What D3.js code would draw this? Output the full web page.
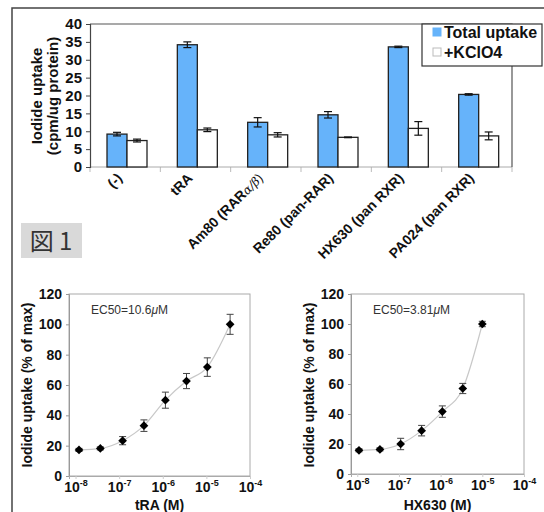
<!DOCTYPE html>
<html>
<head>
<meta charset="utf-8">
<script src="https://cdn.jsdelivr.net/npm/d3@7"></script>
<style>
  body { margin: 0; background: #fff; }
  svg { display: block; font-family: "Liberation Sans", Arial, sans-serif; }
</style>
</head>
<body>
<svg id="fig" width="544" height="512"></svg>
<script>
// bar chart data
const categories = ["(-)", "tRA", "Am80 (RAR", "Re80 (pan-RAR)", "HX630 (pan RXR)", "PA024 (pan RXR)"];
const seriesNames = ["Total uptake", "+KClO4"];
const totalUptake = [9.2, 34.2, 12.5, 14.6, 33.6, 20.3];
const totalErr = [0.5, 0.8, 1.3, 0.9, 0.2, 0.2];
const kclo4Uptake = [7.4, 10.4, 9.0, 8.3, 10.8, 8.7];
const kclo4Err = [0.4, 0.5, 0.6, 0.1, 1.9, 1.1];
const barTicks = [0, 5, 10, 15, 20, 25, 30, 35, 40];

// dose response data
const traConc = [1.2e-8, 3.7e-8, 1.2e-7, 3.7e-7, 1.15e-6, 3.5e-6, 1.05e-5, 3.5e-5];
const traUptake = [17.2, 18.2, 23.3, 33.2, 50, 62.6, 71.8, 100];
const traErr = [1, 1, 2.7, 3.8, 5.3, 5, 6.1, 6.6];
const hxConc = [1.1e-8, 3.5e-8, 1.1e-7, 3.5e-7, 1.1e-6, 3.4e-6, 1e-5];
const hxUptake = [15.8, 16.4, 20, 28.9, 41.6, 57, 100];
const hxErr = [1, 1, 3.8, 3.5, 3.8, 3.4, 1.8];
const doseTicks = [0, 20, 40, 60, 80, 100, 120];
const decadeExp = [-8, -7, -6, -5, -4];

const svg = d3.select('#fig');

// outer frame
svg.append('path')
    .attr('d', 'M12,512 L12,8 L544,8')
    .attr('fill', 'none')
    .attr('stroke', '#444')
    .attr('stroke-width', 1.5);

// ---- top bar chart ----
let barG = svg.append('g');
let x0 = d3.scaleBand().domain(categories).range([90, 512]);
let x1 = d3.scaleBand().domain(seriesNames).range([17, 57]);
let y = d3.scaleLinear().domain([0, 40]).range([167, 24]);

// category boundary ticks
let bounds = categories.map(c => x0(c)).concat([512]);
barG.selectAll('.bt').data(bounds).enter().append('line')
    .attr('x1', d => d).attr('x2', d => d)
    .attr('y1', 167).attr('y2', 172)
    .attr('stroke', '#bbb');
barG.append('line').attr('x1', 90).attr('x2', 512).attr('y1', 167).attr('y2', 167)
    .attr('stroke', '#aaa');

// plot frame top/right
barG.append('path').attr('d', 'M90,24 L512,24 L512,167')
    .attr('fill', 'none').attr('stroke', '#555').attr('stroke-width', 1.2);

let yAxis = barG.append('g').attr('transform', 'translate(90,0)')
    .call(d3.axisLeft(y).tickValues(barTicks).tickSize(4).tickPadding(4));
yAxis.select('.domain').attr('stroke', '#444').attr('stroke-width', 1.2);
yAxis.selectAll('line').attr('stroke', '#444');
yAxis.selectAll('text').attr('font-size', 15).attr('font-weight', 'bold')
    .attr('fill', '#111').attr('font-family', '"Liberation Sans", Arial, sans-serif');

barG.append('text')
    .attr('transform', 'translate(42,96) rotate(-90)')
    .attr('text-anchor', 'middle')
    .attr('font-size', 15).attr('font-weight', 'bold').attr('fill', '#111')
    .text('Iodide uptake');
barG.append('text')
    .attr('transform', 'translate(58,96) rotate(-90)')
    .attr('text-anchor', 'middle')
    .attr('font-size', 15).attr('font-weight', 'bold').attr('fill', '#111')
    .text('(cpm/ug protein)');

let barRows = categories.map((c, i) => [
    {cat: c, s: seriesNames[0], v: totalUptake[i], e: totalErr[i]},
    {cat: c, s: seriesNames[1], v: kclo4Uptake[i], e: kclo4Err[i]}
]).flat();

barG.selectAll('.bar').data(barRows).enter().append('rect')
    .attr('x', d => x0(d.cat) + x1(d.s))
    .attr('y', d => y(d.v))
    .attr('width', x1.bandwidth())
    .attr('height', d => y(0) - y(d.v))
    .attr('fill', d => d.s === seriesNames[0] ? '#66b3fa' : '#fff')
    .attr('stroke', '#222')
    .attr('stroke-width', 1.3);

let errG = barG.selectAll('.err').data(barRows).enter().append('g')
    .attr('transform', d => `translate(${x0(d.cat) + x1(d.s) + x1.bandwidth() / 2},0)`);
errG.append('line')
    .attr('y1', d => y(d.v + d.e)).attr('y2', d => y(d.v - d.e))
    .attr('stroke', '#111').attr('stroke-width', 1.2);
errG.append('line')
    .attr('x1', -4).attr('x2', 4)
    .attr('y1', d => y(d.v + d.e)).attr('y2', d => y(d.v + d.e))
    .attr('stroke', '#111').attr('stroke-width', 1.2);
errG.append('line')
    .attr('x1', -4).attr('x2', 4)
    .attr('y1', d => y(d.v - d.e)).attr('y2', d => y(d.v - d.e))
    .attr('stroke', '#111').attr('stroke-width', 1.2);

// category labels
barG.selectAll('.cl').data(categories).enter().append('text')
    .attr('transform', c => `translate(${x0(c) + x0.bandwidth() / 2 - 2},179) rotate(-45)`)
    .attr('text-anchor', 'end')
    .attr('font-size', 14).attr('font-weight', 'bold').attr('fill', '#111')
    .each(function(c) {
        let t = d3.select(this);
        t.append('tspan').text(c);
        if (c === 'Am80 (RAR') {
            t.append('tspan').attr('font-weight', 'normal').attr('font-style', 'italic')
                .attr('font-family', '"DejaVu Serif", serif').attr('font-size', 12).text('α/β');
            t.append('tspan').attr('font-weight', 'normal').attr('font-size', 13).text(')');
        }
    });

// legend
let leg = barG.append('g');
leg.append('rect').attr('x', 422).attr('y', 24).attr('width', 120).attr('height', 42)
    .attr('fill', '#fff').attr('stroke', '#333').attr('stroke-width', 1.2);
seriesNames.forEach((s, i) => {
    leg.append('rect').attr('x', 433).attr('y', 28 + i * 20).attr('width', 8).attr('height', 8)
        .attr('fill', i === 0 ? '#66b3fa' : '#fff')
        .attr('stroke', i === 0 ? '#66b3fa' : '#bbb');
    leg.append('text').attr('x', 444).attr('y', 38 + i * 20)
        .attr('font-size', 16).attr('font-weight', 'bold').attr('fill', '#111')
        .text(s);
});

// figure tag
svg.append('rect').attr('x', 21).attr('y', 223).attr('width', 61).attr('height', 35)
    .attr('fill', '#d9d9d9');
svg.append('text').attr('x', 51).attr('y', 250).attr('text-anchor', 'middle')
    .attr('font-family', '"Noto Sans CJK JP", sans-serif').attr('font-size', 24)
    .attr('fill', '#333').text('図 1');

// ---- dose response panels ----
function drawDose(cfg) {
    let g = svg.append('g');
    let x = d3.scaleLog().domain([cfg.xmin, 1e-4]).range([cfg.left, cfg.right]);
    let yy = d3.scaleLinear().domain([0, 120]).range([cfg.bottom, 294]);

    g.append('rect').attr('x', cfg.left).attr('y', 294)
        .attr('width', cfg.right - cfg.left).attr('height', cfg.bottom - 294)
        .attr('fill', 'none').attr('stroke', '#aaa');

    let ya = g.append('g').attr('transform', `translate(${cfg.left},0)`)
        .call(d3.axisLeft(yy).tickValues(doseTicks).tickSize(3).tickPadding(4));
    ya.select('.domain').attr('stroke', '#999');
    ya.selectAll('line').attr('stroke', '#999');
    ya.selectAll('text').attr('font-size', 14).attr('font-weight', 'bold')
        .attr('fill', '#111').attr('font-family', '"Liberation Sans", Arial, sans-serif');

    let ticks = decadeExp.map(e => Math.pow(10, e));
    let xa = g.append('g').attr('transform', `translate(0,${cfg.bottom})`)
        .call(d3.axisBottom(x).tickValues(ticks).tickSize(3).tickFormat(''));
    xa.select('.domain').attr('stroke', '#aaa');
    xa.selectAll('line').attr('stroke', '#ccc');
    xa.selectAll('.tick').append('text')
        .attr('y', 16).attr('text-anchor', 'middle')
        .attr('font-size', 14).attr('font-weight', 'bold').attr('fill', '#111')
        .attr('font-family', '"Liberation Sans", Arial, sans-serif')
        .each(function(d) {
            let t = d3.select(this);
            t.append('tspan').text('10');
            t.append('tspan').attr('dy', -6).attr('font-size', 9)
                .text(Math.round(Math.log10(d)));
        });

    g.append('text')
        .attr('x', (cfg.left + cfg.right) / 2).attr('y', 510)
        .attr('text-anchor', 'middle')
        .attr('font-size', 14).attr('font-weight', 'bold').attr('fill', '#111')
        .text(cfg.xlabel);

    g.append('text')
        .attr('transform', `translate(${cfg.left - 37},385) rotate(-90)`)
        .attr('text-anchor', 'middle')
        .attr('font-size', 14).attr('font-weight', 'bold').attr('fill', '#111')
        .text('Iodide uptake (% of max)');

    g.append('text').attr('x', cfg.left + 22).attr('y', 314)
        .attr('font-size', 12).attr('fill', '#333')
        .each(function() {
            let t = d3.select(this);
            t.append('tspan').text(cfg.ec50);
            t.append('tspan').attr('font-style', 'italic').text('μ');
            t.append('tspan').text('M');
        });

    let pts = cfg.conc.map((c, i) => ({c: c, v: cfg.vals[i], e: cfg.err[i]}));

    g.append('path').datum(pts)
        .attr('fill', 'none').attr('stroke', '#c8c8c8').attr('stroke-width', 1.2)
        .attr('d', d3.line().x(d => x(d.c)).y(d => yy(d.v)).curve(d3.curveMonotoneX));

    let eg = g.selectAll('.pe').data(pts).enter().append('g')
        .attr('transform', d => `translate(${x(d.c)},0)`);
    eg.append('line').attr('y1', d => yy(d.v + d.e)).attr('y2', d => yy(d.v - d.e))
        .attr('stroke', '#444');
    eg.append('line').attr('x1', -3.5).attr('x2', 3.5)
        .attr('y1', d => yy(d.v + d.e)).attr('y2', d => yy(d.v + d.e)).attr('stroke', '#444');
    eg.append('line').attr('x1', -3.5).attr('x2', 3.5)
        .attr('y1', d => yy(d.v - d.e)).attr('y2', d => yy(d.v - d.e)).attr('stroke', '#444');

    g.selectAll('.pt').data(pts).enter().append('path')
        .attr('d', d3.symbol(d3.symbolSquare, 38))
        .attr('transform', d => `translate(${x(d.c)},${yy(d.v)}) rotate(45)`)
        .attr('fill', '#000');
}

drawDose({left: 69, right: 250, bottom: 476, xmin: Math.pow(10, -8.15),
    conc: traConc, vals: traUptake, err: traErr, xlabel: 'tRA (M)', ec50: 'EC50=10.6'});
drawDose({left: 351, right: 524, bottom: 474, xmin: Math.pow(10, -8.15),
    conc: hxConc, vals: hxUptake, err: hxErr, xlabel: 'HX630 (M)', ec50: 'EC50=3.81'});
</script>
</body>
</html>
